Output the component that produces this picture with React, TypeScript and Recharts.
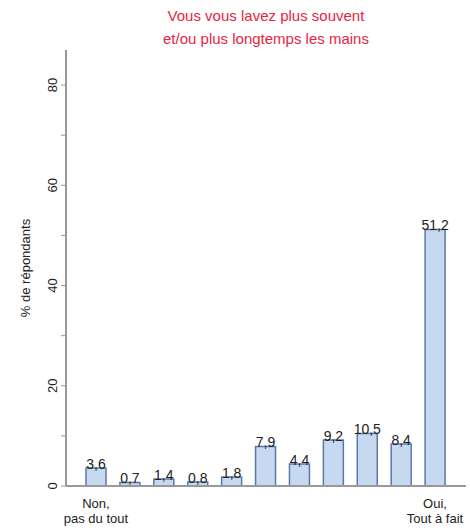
import React from 'react';
import { BarChart, Bar, XAxis, YAxis, LabelList } from 'recharts';

const categories = ['Non,|pas du tout', '2', '3', '4', '5', '6', '7', '8', '9', '10', 'Oui,|Tout à fait'];
const values = [3.6, 0.7, 1.4, 0.8, 1.8, 7.9, 4.4, 9.2, 10.5, 8.4, 51.2];
const yTicks = [0, 10, 20, 30, 40, 50, 60, 70, 80];
const titleLines = ['Vous vous lavez plus souvent', 'et/ou plus longtemps les mains'];

const data = categories.map((c, i) => ({ cat: c, value: values[i] }));

const FONT = 'Liberation Sans, Arial, sans-serif';

const XTick = (props: any) => {
  const { x, y, payload } = props;
  const label: string = payload.value;
  if (!label.includes('|')) return null;
  const lines = label.split('|');
  return (
    <g>
      {lines.map((l, i) => (
        <text key={i} x={x} y={y + 14 + i * 15} textAnchor="middle" fontSize={13} fontFamily={FONT} fill="#222">
          {l}
        </text>
      ))}
    </g>
  );
};

const YTick = (props: any) => {
  const { x, y, payload } = props;
  const major = payload.value % 20 === 0;
  return (
    <g>
      <line x1={x + 3} x2={x + (major ? 8 : 7)} y1={y} y2={y} stroke="#999" strokeWidth={1} />
      {major && (
        <text
          x={0}
          y={0}
          transform={`translate(${x - 1}, ${y}) rotate(-90)`}
          textAnchor="middle"
          fontSize={13}
          fontFamily={FONT}
          fill="#222"
        >
          {payload.value}
        </text>
      )}
    </g>
  );
};

const ValueLabel = (props: any) => {
  const { x, y, width, value } = props;
  return (
    <text x={x + width / 2} y={y + 1} textAnchor="middle" fontSize={14} fontFamily={FONT} fill="#222">
      {String(value).replace('.', ',')}
    </text>
  );
};

export default function App() {
  return (
    <div style={{ position: 'absolute', left: 0, top: 0, width: 470, height: 531, background: '#fff' }}>
      <svg width={470} height={60} style={{ position: 'absolute', left: 0, top: 0 }}>
        {titleLines.map((t, i) => (
          <text key={i} x={266} y={21 + i * 23} textAnchor="middle" fontSize={15} fontFamily={FONT} fill="#e8253f">
            {t}
          </text>
        ))}
      </svg>
      <div style={{ position: 'absolute', left: 0, top: 0 }}>
        <BarChart width={470} height={531} data={data} margin={{ top: 50, right: 4, bottom: 0, left: 0 }} barSize={20}>
          <XAxis
            dataKey="cat"
            interval={0}
            tick={<XTick />}
            tickLine={false}
            axisLine={{ stroke: '#999', strokeWidth: 2 }}
            padding={{ left: 13, right: 14 }}
            height={45}
          />
          <YAxis
            type="number"
            domain={[0, 87]}
            ticks={yTicks}
            interval={0}
            tick={<YTick />}
            tickLine={false}
            axisLine={{ stroke: '#999', strokeWidth: 2 }}
            width={66}
            label={{
              value: '% de répondants',
              angle: -90,
              position: 'insideLeft',
              dx: 20,
              style: { fontSize: 13, fontFamily: FONT, fill: '#222', textAnchor: 'middle' },
            }}
          />
          <Bar dataKey="value" fill="#c6d9f0" stroke="#5a7aa6" strokeWidth={1.5} isAnimationActive={false}>
            <LabelList dataKey="value" content={<ValueLabel />} />
          </Bar>
        </BarChart>
      </div>
    </div>
  );
}
